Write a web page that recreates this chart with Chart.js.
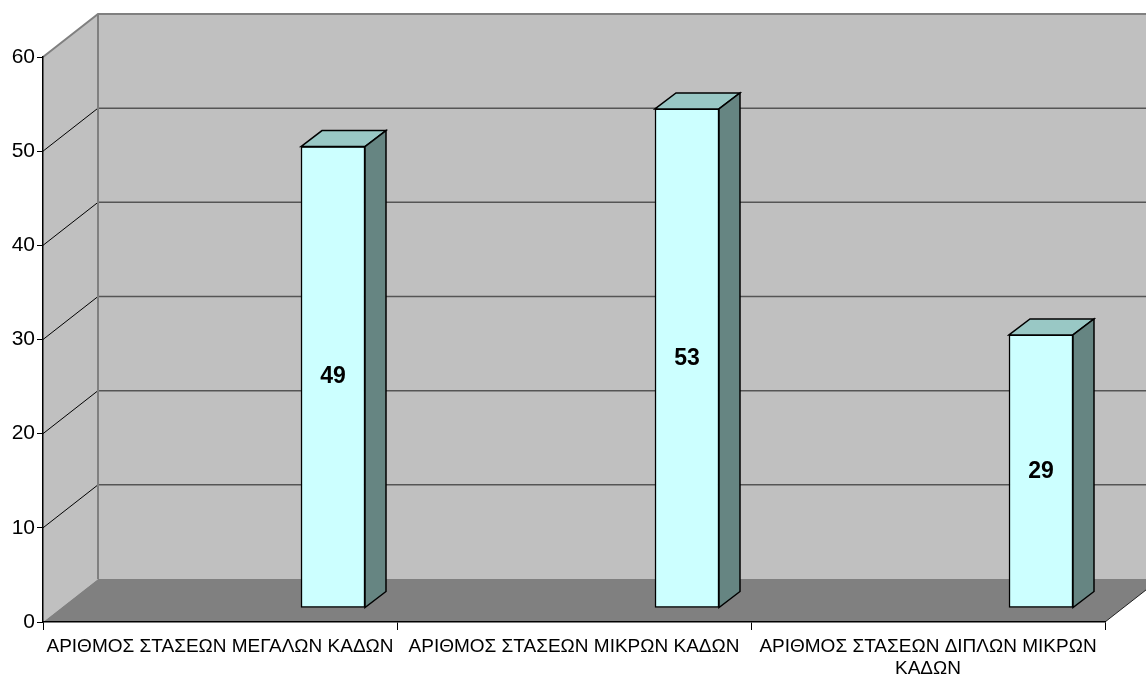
<!DOCTYPE html>
<html>
<head>
<meta charset="utf-8">
<script src="https://cdn.jsdelivr.net/npm/chart.js@4/dist/chart.umd.min.js"></script>
<style>
  html, body { margin: 0; padding: 0; background: #fff; }
  #wrap { width: 1146px; height: 675px; }
</style>
</head>
<body>
<div id="wrap"><canvas id="stopsChart"></canvas></div>
<script>
const categories = [
  "ΑΡΙΘΜΟΣ ΣΤΑΣΕΩΝ ΜΕΓΑΛΩΝ ΚΑΔΩΝ",
  "ΑΡΙΘΜΟΣ ΣΤΑΣΕΩΝ ΜΙΚΡΩΝ ΚΑΔΩΝ",
  ["ΑΡΙΘΜΟΣ ΣΤΑΣΕΩΝ ΔΙΠΛΩΝ ΜΙΚΡΩΝ", "ΚΑΔΩΝ"]
];
const stops = [49, 53, 29];
const yTicks = [0, 10, 20, 30, 40, 50, 60];

// fake 3d: depth of the box and where the columns sit inside it
const DEPTH = { x: 55, y: -43 };
const BAR_SHIFT = { x: 113, y: -14 };
const BAR_DEPTH = { x: 21, y: -16 };

function poly(ctx, pts) {
  ctx.beginPath();
  ctx.moveTo(pts[0][0], pts[0][1]);
  for (let i = 1; i < pts.length; i++) ctx.lineTo(pts[i][0], pts[i][1]);
  ctx.closePath();
}

function line(ctx, x1, y1, x2, y2) {
  ctx.beginPath();
  ctx.moveTo(x1, y1);
  ctx.lineTo(x2, y2);
  ctx.stroke();
}

const box3d = {
  id: "box3d",
  beforeDraw(chart) {
    const { ctx, chartArea: a, scales: { y } } = chart;
    const dx = DEPTH.x, dy = DEPTH.y;
    ctx.save();
    ctx.fillStyle = "#c0c0c0";
    poly(ctx, [[a.left, a.top], [a.left + dx, a.top + dy], [a.left + dx, a.bottom + dy], [a.left, a.bottom]]);
    ctx.fill();
    ctx.fillRect(a.left + dx, a.top + dy, a.right - a.left, a.bottom - a.top);

    ctx.fillStyle = "#808080";
    poly(ctx, [[a.left, a.bottom], [a.left + dx, a.bottom + dy], [a.right + dx, a.bottom + dy], [a.right, a.bottom]]);
    ctx.fill();

    const top = yTicks[yTicks.length - 1];
    yTicks.forEach(v => {
      if (v === yTicks[0] || v === top) return;
      const py = y.getPixelForValue(v);
      ctx.lineWidth = 1;
      ctx.strokeStyle = "#000";
      line(ctx, a.left, py, a.left + dx, py + dy);
      ctx.lineWidth = 1.5;
      ctx.strokeStyle = "#555";
      line(ctx, a.left + dx, py + dy, a.right + dx, py + dy);
    });

    // wall edges
    ctx.strokeStyle = "#808080";
    ctx.lineWidth = 2;
    ctx.beginPath();
    ctx.moveTo(a.left, a.top);
    ctx.lineTo(a.left + dx, a.top + dy);
    ctx.lineTo(a.right + dx, a.top + dy);
    ctx.moveTo(a.left + dx, a.top + dy);
    ctx.lineTo(a.left + dx, a.bottom + dy);
    ctx.stroke();

    ctx.strokeStyle = "#222";
    ctx.lineWidth = 1;
    line(ctx, a.right, a.bottom, a.right + dx, a.bottom + dy);
    ctx.restore();
  },
  beforeDatasetsDraw(chart) {
    chart.ctx.save();
    chart.ctx.translate(BAR_SHIFT.x, BAR_SHIFT.y);
  },
  afterDatasetsDraw(chart) {
    const ctx = chart.ctx;
    const meta = chart.getDatasetMeta(0);
    const bx = BAR_DEPTH.x, by = BAR_DEPTH.y;
    ctx.lineWidth = 1.5;
    ctx.strokeStyle = "#000";
    ctx.lineJoin = "miter";
    meta.data.forEach((bar, i) => {
      const { x, y, base, width } = bar.getProps(["x", "y", "base", "width"], true);
      const l = x - width / 2, r = x + width / 2;
      ctx.fillStyle = "#99c8c5";
      poly(ctx, [[l, y], [l + bx, y + by], [r + bx, y + by], [r, y]]);
      ctx.fill();
      ctx.stroke();
      ctx.fillStyle = "#668582";
      poly(ctx, [[r, y], [r + bx, y + by], [r + bx, base + by], [r, base]]);
      ctx.fill();
      ctx.stroke();

      ctx.fillStyle = "#000";
      ctx.font = "bold 23px 'Liberation Sans', Arial, sans-serif";
      ctx.textAlign = "center";
      ctx.textBaseline = "middle";
      ctx.fillText(String(stops[i]), x, (y + base) / 2);
    });
    ctx.restore();
  }
};

new Chart(document.getElementById("stopsChart"), {
  type: "bar",
  data: {
    labels: categories,
    datasets: [{
      data: stops,
      backgroundColor: "#ccffff",
      borderColor: "#000",
      borderWidth: 1.5,
      borderSkipped: false,
      barThickness: 64
    }]
  },
  options: {
    responsive: true,
    maintainAspectRatio: false,
    animation: false,
    layout: { padding: { left: 0, top: 57, right: 41, bottom: 0 } },
    plugins: {
      legend: { display: false },
      tooltip: { enabled: false }
    },
    scales: {
      x: {
        afterFit(scale) { scale.height = 53; },
        grid: { drawOnChartArea: false, drawTicks: true, tickLength: 8, color: "#000" },
        border: { display: true, color: "#000", width: 1.5 },
        ticks: {
          autoSkip: false,
          maxRotation: 0,
          padding: 6,
          color: "#000",
          font: { family: "'Liberation Sans', Arial, sans-serif", size: 19, lineHeight: 1.15 }
        }
      },
      y: {
        min: yTicks[0],
        max: yTicks[yTicks.length - 1],
        afterFit(scale) { scale.width = 43; },
        grid: { drawOnChartArea: false, drawTicks: true, tickLength: 6, color: "#000" },
        border: { display: true, color: "#000", width: 1.5 },
        ticks: {
          stepSize: yTicks[1] - yTicks[0],
          padding: 2,
          color: "#000",
          font: { family: "'Liberation Sans', Arial, sans-serif", size: 21 }
        }
      }
    }
  },
  plugins: [box3d]
});
</script>
</body>
</html>
